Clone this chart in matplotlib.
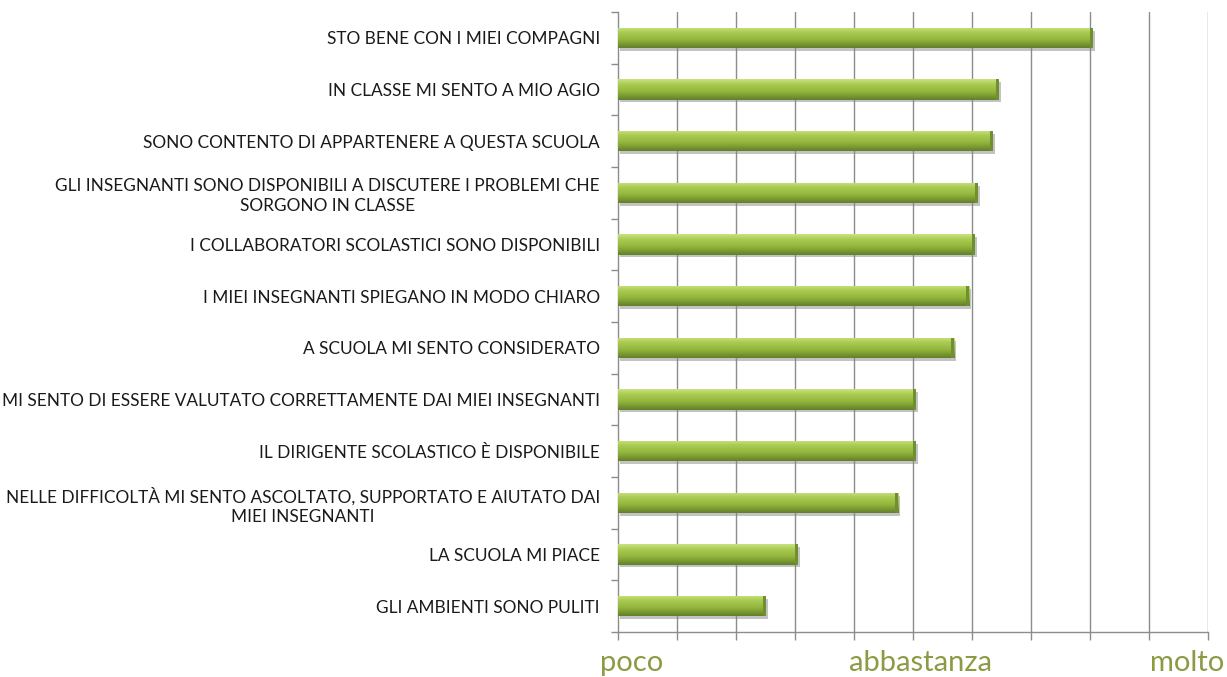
import numpy as np
import matplotlib
matplotlib.use("Agg")
import matplotlib.pyplot as plt
import matplotlib.patheffects as pe
from matplotlib.colors import LinearSegmentedColormap

# ---- data ----
categories = [
    "STO BENE CON I MIEI COMPAGNI",
    "IN CLASSE MI SENTO A MIO AGIO",
    "SONO CONTENTO DI APPARTENERE A QUESTA SCUOLA",
    "GLI INSEGNANTI SONO DISPONIBILI A DISCUTERE I PROBLEMI CHE\nSORGONO IN CLASSE",
    "I COLLABORATORI SCOLASTICI SONO DISPONIBILI",
    "I MIEI INSEGNANTI SPIEGANO IN MODO CHIARO",
    "A SCUOLA MI SENTO CONSIDERATO",
    "MI SENTO DI ESSERE VALUTATO CORRETTAMENTE DAI MIEI INSEGNANTI",
    "IL DIRIGENTE SCOLASTICO È DISPONIBILE",
    "NELLE DIFFICOLTÀ MI SENTO ASCOLTATO, SUPPORTATO E AIUTATO DAI\nMIEI INSEGNANTI",
    "LA SCUOLA MI PIACE",
    "GLI AMBIENTI SONO PULITI",
]
values = [2.61, 2.29, 2.27, 2.22, 2.21, 2.19, 2.14, 2.01, 2.01, 1.95, 1.61, 1.50]
scale_labels = ["poco", "abbastanza", "molto"]
scale_values = [1, 2, 3]

# ---- layout ----
W, H = 1227, 677
fig = plt.figure(figsize=(W / 100, H / 100), dpi=100)
ax = fig.add_axes([618 / W, (H - 632) / H, (1208 - 618) / W, (632 - 12) / H])

n = len(categories)
y = np.arange(n)
xmin, xmax = 1.0, 3.0
ax.set_xlim(xmin, xmax)
ax.set_ylim(n - 0.5, -0.5)

grid_x = np.round(np.arange(xmin, xmax + 1e-9, 0.2), 2)
for gx in grid_x[1:]:
    ax.axvline(gx, color="#8c8c8c", lw=1.0, zorder=0)

bar_h = 0.39
cmap = LinearSegmentedColormap.from_list(
    "g", [(0.0, "#c9e27f"), (0.25, "#a9cb52"), (0.6, "#93b53c"), (1.0, "#62802a")])
grad = np.linspace(0, 1, 64).reshape(-1, 1)

bars = ax.barh(y, np.array(values) - xmin, left=xmin, height=bar_h, color="#9bbb45",
               edgecolor="none", zorder=2)
for b in bars:
    b.set_path_effects([pe.SimplePatchShadow(offset=(1.5, -2), shadow_rgbFace="#888888", alpha=0.5),
                        pe.Normal()])
    x0, y0 = b.get_x(), b.get_y()
    w, h = b.get_width(), b.get_height()
    im = ax.imshow(grad, cmap=cmap, aspect="auto", extent=(x0, x0 + w, y0 + h, y0),
                   zorder=3, interpolation="bilinear")
    im.set_clip_path(b)
    # darker end cap
    ax.barh(y0 + h / 2, 0.01, left=x0 + w - 0.01, height=h, color="#6f8f30",
            edgecolor="none", zorder=4)

ax.set_xlim(xmin, xmax)
ax.set_ylim(n - 0.5, -0.5)

# y axis
ax.set_yticks(y)
ax.set_yticklabels(categories, fontfamily="Lato", fontsize=12.4, color="#1a1a1a",
                   multialignment="center", linespacing=1.25)
ax.set_yticks(np.arange(-0.5, n, 1.0), minor=True)
ax.tick_params(axis="y", which="major", length=0, pad=13)
ax.tick_params(axis="y", which="minor", length=5, color="#8c8c8c", width=1)

# x axis
ax.set_xticks(grid_x)
ax.set_xticklabels([])
ax.tick_params(axis="x", which="major", length=6, color="#8c8c8c", width=1)

for s in ["top", "right"]:
    ax.spines[s].set_visible(False)
for s in ["left", "bottom"]:
    ax.spines[s].set_color("#8c8c8c")
    ax.spines[s].set_linewidth(1.0)

label_x = [1.047, 2.024, 2.93]
for lx, lab in zip(label_x, scale_labels):
    ax.text(lx, (632 - 671) / 620, lab, transform=ax.get_xaxis_transform(), ha="center",
            va="baseline", fontfamily="Lato", fontsize=21, color="#8a9b43")

fig.savefig("out.png", dpi=100)
